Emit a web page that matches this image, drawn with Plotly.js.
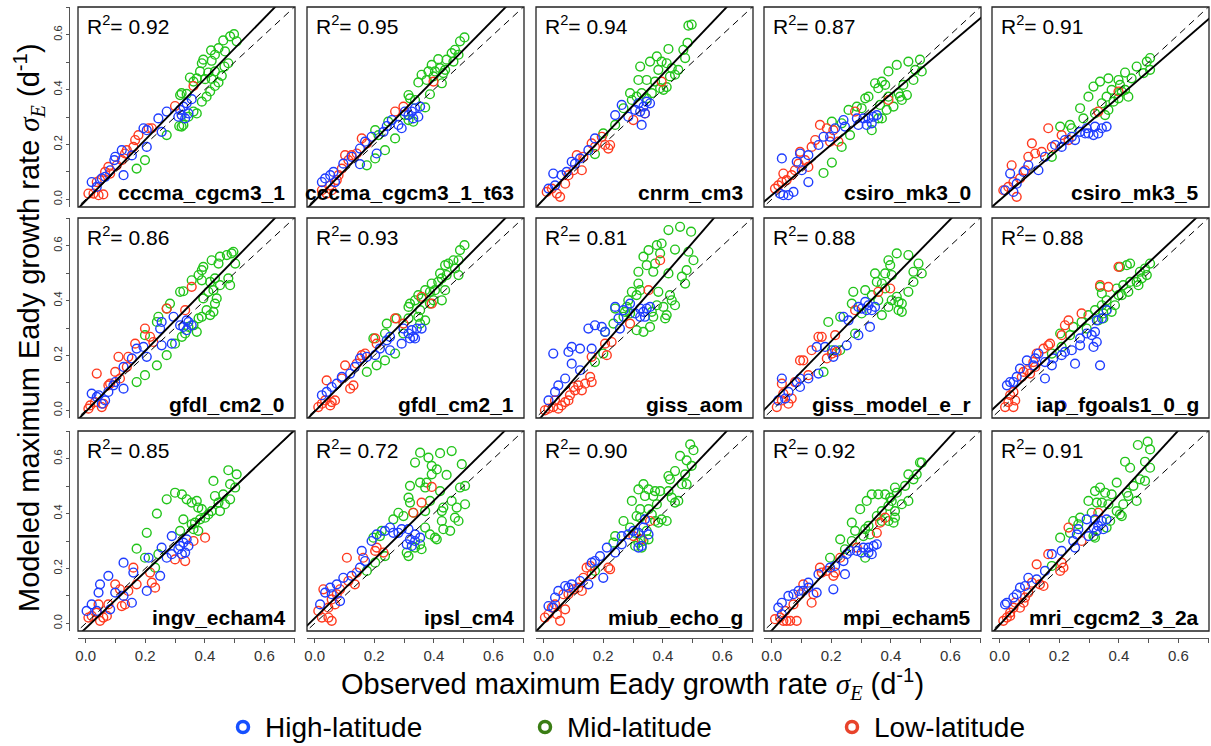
<!DOCTYPE html>
<html>
<head>
<meta charset="utf-8">
<script src="https://cdn.plot.ly/plotly-3.0.1.min.js"></script>
<style>html,body{margin:0;padding:0;background:#fff;}#chart{width:1211px;height:746px;}</style>
</head>
<body>
<div id="chart"></div>
<script>
// ---------------- data ----------------
const models = ['cccma_cgcm3_1','cccma_cgcm3_1_t63','cnrm_cm3','csiro_mk3_0','csiro_mk3_5',
  'gfdl_cm2_0','gfdl_cm2_1','giss_aom','giss_model_e_r','iap_fgoals1_0_g',
  'ingv_echam4','ipsl_cm4','miub_echo_g','mpi_echam5','mri_cgcm2_3_2a'];
const r2 = ['0.92','0.95','0.94','0.87','0.91','0.86','0.93','0.81','0.88','0.88','0.85','0.72','0.90','0.92','0.91'];
const fitSlope = [1.11,1.10,1.14,0.92,0.94,1.11,1.10,1.25,1.11,1.02,1.03,1.07,1.14,1.18,1.18];
const fitIntercept = [-0.005,-0.005,0.0,0.015,-0.003,-0.005,-0.004,-0.014,0.03,0.028,-0.018,0.019,0.0,-0.026,-0.005];
const groups = ['High-latitude','Mid-latitude','Low-latitude'];
const tickVals = [0,0.1,0.2,0.3,0.4,0.5,0.6,0.7];
const tickText = ['0.0','','0.2','','0.4','','0.6',''];

// panel 1 cccma_cgcm3_1
const p1_hx=[0.356,0.339,0.328,0.317,0.345,0.322,0.311,0.334,0.272,0.244,0.194,0.205,0.255,0.205,0.121,0.099,0.096,0.082,0.065,0.054,0.020,0.037,0.127,0.155];
const p1_hy=[0.365,0.350,0.338,0.326,0.313,0.307,0.301,0.295,0.320,0.295,0.259,0.252,0.246,0.191,0.179,0.155,0.143,0.106,0.082,0.076,0.063,0.045,0.088,0.160];
const p1_mx=[0.498,0.485,0.507,0.462,0.446,0.421,0.468,0.434,0.395,0.423,0.390,0.479,0.466,0.384,0.412,0.434,0.350,0.373,0.401,0.423,0.457,0.362,0.446,0.434,0.418,0.406,0.390,0.322,0.317,0.339,0.373,0.362,0.345,0.322,0.314,0.328,0.272,0.199,0.171];
const p1_my=[0.602,0.594,0.576,0.579,0.551,0.543,0.539,0.527,0.509,0.505,0.496,0.496,0.484,0.466,0.462,0.466,0.444,0.441,0.438,0.439,0.450,0.429,0.426,0.413,0.393,0.374,0.356,0.387,0.380,0.384,0.313,0.320,0.301,0.265,0.267,0.271,0.234,0.143,0.112];
const p1_lx=[0.026,0.009,0.043,0.059,0.037,0.048,0.076,0.082,0.104,0.132,0.138,0.160,0.166,0.177,0.222,0.211,0.300,0.362,0.121,0.065];
const p1_ly=[0.021,0.021,0.015,0.018,0.063,0.070,0.118,0.094,0.124,0.167,0.179,0.191,0.216,0.234,0.259,0.259,0.340,0.413,0.143,0.100];

// panel 2 cccma_cgcm3_1_t63
const p2_hx=[0.354,0.337,0.326,0.315,0.348,0.331,0.303,0.292,0.281,0.259,0.242,0.231,0.191,0.169,0.152,0.124,0.096,0.152,0.063,0.052,0.035,0.024,0.068,0.208];
const p2_hy=[0.338,0.332,0.320,0.307,0.301,0.295,0.320,0.259,0.271,0.289,0.267,0.246,0.228,0.210,0.185,0.155,0.130,0.128,0.100,0.088,0.076,0.063,0.063,0.167];
const p2_mx=[0.503,0.488,0.471,0.460,0.483,0.443,0.415,0.466,0.393,0.421,0.438,0.382,0.404,0.432,0.359,0.399,0.376,0.348,0.427,0.387,0.315,0.320,0.337,0.371,0.303,0.315,0.331,0.247,0.203,0.214,0.270,0.236,0.203,0.175];
const p2_my=[0.590,0.576,0.545,0.533,0.527,0.509,0.511,0.502,0.490,0.478,0.472,0.466,0.466,0.460,0.454,0.448,0.435,0.426,0.423,0.383,0.380,0.368,0.362,0.335,0.307,0.289,0.283,0.283,0.252,0.234,0.222,0.179,0.149,0.124];
const p2_lx=[0.040,0.057,0.024,0.052,0.074,0.080,0.091,0.113,0.124,0.141,0.158,0.175,0.270,0.298,0.399,0.102];
const p2_ly=[0.021,0.033,0.033,0.051,0.070,0.088,0.112,0.143,0.161,0.167,0.222,0.204,0.320,0.338,0.429,0.161];

// panel 3 cnrm_cm3
const p3_hx=[0.357,0.346,0.318,0.335,0.307,0.324,0.340,0.284,0.240,0.329,0.172,0.150,0.122,0.105,0.094,0.077,0.060,0.032,0.038,0.016,0.262];
const p3_hy=[0.350,0.356,0.350,0.338,0.326,0.320,0.313,0.301,0.307,0.271,0.222,0.179,0.149,0.130,0.137,0.100,0.088,0.094,0.051,0.039,0.344];
const p3_mx=[0.497,0.486,0.483,0.469,0.475,0.419,0.380,0.396,0.357,0.413,0.430,0.452,0.385,0.324,0.318,0.346,0.374,0.424,0.441,0.391,0.402,0.413,0.363,0.329,0.290,0.312,0.346,0.296,0.268,0.240,0.172,0.200];
const p3_my=[0.637,0.633,0.570,0.545,0.515,0.548,0.521,0.502,0.502,0.496,0.478,0.472,0.472,0.484,0.435,0.435,0.429,0.448,0.454,0.405,0.399,0.409,0.387,0.387,0.387,0.374,0.368,0.362,0.332,0.271,0.165,0.240];
const p3_lx=[0.010,0.027,0.044,0.055,0.072,0.083,0.100,0.128,0.111,0.133,0.161,0.206,0.223,0.217,0.301,0.340,0.396,0.195,0.172];
const p3_ly=[0.027,0.039,0.021,0.009,0.057,0.088,0.106,0.106,0.161,0.155,0.204,0.198,0.198,0.185,0.289,0.313,0.429,0.228,0.191];

// panel 4 csiro_mk3_0
const p4_hx=[0.353,0.342,0.325,0.308,0.336,0.319,0.286,0.291,0.241,0.246,0.213,0.196,0.174,0.157,0.123,0.095,0.084,0.034,0.123,0.028,0.039,0.056,0.073,0.101];
const p4_hy=[0.307,0.301,0.295,0.295,0.277,0.271,0.295,0.271,0.289,0.265,0.259,0.228,0.228,0.198,0.161,0.167,0.137,0.149,0.063,0.021,0.015,0.015,0.027,0.106];
const p4_mx=[0.498,0.459,0.420,0.392,0.482,0.476,0.504,0.442,0.370,0.347,0.381,0.358,0.325,0.314,0.426,0.431,0.437,0.454,0.409,0.386,0.364,0.286,0.258,0.302,0.358,0.370,0.336,0.235,0.202,0.263,0.235,0.202,0.174,0.392];
const p4_my=[0.509,0.502,0.490,0.466,0.472,0.435,0.466,0.417,0.429,0.423,0.417,0.405,0.374,0.368,0.387,0.374,0.362,0.380,0.338,0.326,0.344,0.338,0.326,0.332,0.295,0.295,0.252,0.277,0.283,0.234,0.191,0.134,0.096,0.374];
const p4_lx=[0.011,0.022,0.034,0.039,0.067,0.078,0.090,0.095,0.112,0.123,0.134,0.146,0.162,0.185,0.207,0.196,0.224,0.280,0.392,0.050];
const p4_ly=[0.039,0.051,0.063,0.094,0.088,0.106,0.130,0.173,0.143,0.118,0.191,0.216,0.271,0.259,0.252,0.210,0.210,0.320,0.362,0.070];

// panel 5 csiro_mk3_5
const p5_hx=[0.359,0.343,0.320,0.331,0.315,0.298,0.287,0.292,0.270,0.253,0.242,0.219,0.208,0.186,0.152,0.130,0.096,0.080,0.035,0.057,0.018,0.046];
const p5_hy=[0.265,0.259,0.265,0.240,0.234,0.240,0.240,0.259,0.246,0.216,0.228,0.216,0.191,0.198,0.155,0.106,0.124,0.100,0.094,0.057,0.033,0.027];
const p5_mx=[0.505,0.494,0.505,0.460,0.483,0.421,0.443,0.399,0.365,0.337,0.315,0.404,0.421,0.432,0.399,0.382,0.359,0.298,0.343,0.365,0.354,0.320,0.270,0.281,0.236,0.242,0.203,0.175,0.410,0.376];
const p5_my=[0.515,0.502,0.472,0.484,0.460,0.462,0.441,0.435,0.441,0.429,0.411,0.417,0.399,0.374,0.368,0.356,0.374,0.374,0.350,0.326,0.307,0.313,0.332,0.295,0.271,0.259,0.265,0.155,0.393,0.399];
const p5_lx=[0.012,0.029,0.046,0.057,0.068,0.085,0.040,0.096,0.119,0.141,0.108,0.163,0.208,0.231,0.175,0.399,0.331];
const p5_ly=[0.033,0.045,0.063,0.009,0.076,0.106,0.124,0.155,0.167,0.173,0.204,0.259,0.234,0.216,0.191,0.393,0.320];

// panel 6 gfdl_cm2_0
const p6_hx=[0.295,0.255,0.250,0.339,0.345,0.328,0.317,0.339,0.356,0.255,0.289,0.194,0.171,0.205,0.155,0.127,0.099,0.127,0.076,0.043,0.020,0.037,0.065,0.054,0.093];
const p6_hy=[0.341,0.322,0.298,0.328,0.322,0.304,0.310,0.292,0.310,0.237,0.243,0.231,0.225,0.195,0.189,0.158,0.103,0.079,0.067,0.055,0.061,0.049,0.036,0.024,0.091];
const p6_mx=[0.496,0.490,0.502,0.474,0.451,0.423,0.446,0.395,0.390,0.379,0.356,0.390,0.418,0.434,0.479,0.451,0.485,0.429,0.328,0.317,0.412,0.395,0.440,0.434,0.429,0.406,0.418,0.390,0.379,0.283,0.272,0.239,0.244,0.345,0.334,0.362,0.373,0.323,0.199,0.272,0.239,0.199,0.171,0.300];
const p6_my=[0.578,0.572,0.535,0.566,0.560,0.547,0.535,0.523,0.511,0.493,0.474,0.474,0.468,0.481,0.481,0.456,0.456,0.438,0.434,0.432,0.432,0.408,0.408,0.389,0.359,0.365,0.347,0.341,0.335,0.389,0.371,0.322,0.341,0.304,0.280,0.310,0.286,0.268,0.274,0.201,0.164,0.128,0.103,0.243];
const p6_lx=[0.015,0.009,0.031,0.054,0.059,0.037,0.082,0.099,0.115,0.138,0.110,0.143,0.166,0.199,0.216,0.227,0.272,0.334,0.356,0.076];
const p6_ly=[0.018,0.006,0.030,0.012,0.024,0.134,0.097,0.140,0.116,0.158,0.195,0.195,0.243,0.298,0.268,0.249,0.371,0.365,0.450,0.091];

// panel 7 gfdl_cm2_1
const p7_hx=[0.359,0.343,0.326,0.315,0.331,0.320,0.337,0.298,0.292,0.253,0.242,0.253,0.219,0.203,0.175,0.152,0.135,0.119,0.091,0.074,0.057,0.040,0.024];
const p7_hy=[0.298,0.298,0.292,0.280,0.268,0.262,0.262,0.298,0.243,0.268,0.255,0.219,0.225,0.201,0.195,0.189,0.158,0.134,0.122,0.097,0.085,0.067,0.055];
const p7_mx=[0.503,0.488,0.466,0.483,0.449,0.438,0.471,0.443,0.421,0.427,0.415,0.393,0.371,0.387,0.404,0.438,0.348,0.359,0.337,0.320,0.315,0.387,0.399,0.427,0.354,0.348,0.371,0.354,0.315,0.275,0.242,0.236,0.197,0.298,0.270,0.236,0.208,0.175,0.483];
const p7_my=[0.602,0.584,0.547,0.547,0.535,0.529,0.517,0.493,0.499,0.481,0.468,0.462,0.438,0.432,0.438,0.438,0.420,0.408,0.401,0.389,0.377,0.389,0.401,0.401,0.365,0.341,0.328,0.316,0.335,0.335,0.316,0.280,0.262,0.280,0.207,0.182,0.164,0.140,0.493];
const p7_lx=[0.012,0.024,0.035,0.052,0.057,0.068,0.040,0.091,0.102,0.119,0.130,0.141,0.158,0.169,0.208,0.203,0.270,0.298,0.359,0.393];
const p7_ly=[0.012,0.024,0.036,0.018,0.030,0.036,0.109,0.116,0.164,0.079,0.091,0.170,0.201,0.207,0.243,0.262,0.335,0.316,0.414,0.389];

// panel 8 giss_aom
const p8_hx=[0.240,0.268,0.290,0.324,0.335,0.346,0.357,0.340,0.324,0.307,0.251,0.256,0.195,0.172,0.150,0.206,0.161,0.122,0.094,0.083,0.094,0.122,0.072,0.049,0.038,0.016,0.032];
const p8_hy=[0.377,0.365,0.389,0.371,0.359,0.371,0.377,0.341,0.341,0.353,0.335,0.298,0.304,0.310,0.298,0.286,0.225,0.225,0.231,0.213,0.170,0.146,0.116,0.091,0.067,0.036,0.207];
const p8_mx=[0.458,0.419,0.495,0.441,0.486,0.503,0.396,0.380,0.391,0.352,0.335,0.346,0.374,0.368,0.318,0.419,0.480,0.464,0.475,0.318,0.324,0.296,0.312,0.385,0.424,0.430,0.441,0.402,0.380,0.284,0.279,0.240,0.273,0.290,0.268,0.363,0.368,0.408,0.413,0.312,0.335,0.357,0.234,0.206,0.200,0.172];
const p8_my=[0.669,0.657,0.651,0.586,0.578,0.547,0.608,0.602,0.572,0.584,0.560,0.529,0.535,0.505,0.505,0.499,0.511,0.487,0.462,0.462,0.438,0.432,0.420,0.432,0.420,0.401,0.383,0.377,0.383,0.401,0.377,0.371,0.359,0.353,0.341,0.359,0.341,0.335,0.347,0.292,0.286,0.304,0.316,0.286,0.207,0.176];
const p8_lx=[0.004,0.016,0.032,0.049,0.060,0.038,0.072,0.083,0.088,0.105,0.128,0.139,0.116,0.100,0.156,0.161,0.161,0.206,0.228,0.212,0.290,0.352,0.391];
const p8_ly=[0.000,0.006,0.012,0.006,0.018,0.036,0.030,0.036,0.055,0.073,0.073,0.097,0.091,0.085,0.122,0.103,0.195,0.243,0.249,0.201,0.316,0.438,0.547];

// panel 9 giss_model_e_r
const p9_hx=[0.314,0.325,0.302,0.319,0.291,0.336,0.347,0.330,0.241,0.258,0.291,0.252,0.213,0.207,0.179,0.151,0.157,0.123,0.095,0.084,0.034,0.095,0.056,0.022,0.045];
const p9_hy=[0.395,0.383,0.371,0.365,0.377,0.365,0.377,0.304,0.341,0.328,0.274,0.237,0.219,0.195,0.231,0.231,0.134,0.116,0.116,0.103,0.116,0.085,0.067,0.036,0.043];
const p9_mx=[0.420,0.459,0.392,0.398,0.347,0.381,0.493,0.476,0.504,0.403,0.353,0.370,0.314,0.274,0.381,0.476,0.459,0.336,0.358,0.403,0.420,0.437,0.426,0.437,0.392,0.370,0.269,0.230,0.302,0.280,0.190,0.174,0.230,0.202,0.426];
const p9_my=[0.572,0.566,0.547,0.529,0.499,0.499,0.535,0.505,0.499,0.493,0.468,0.462,0.438,0.432,0.444,0.468,0.432,0.420,0.401,0.401,0.414,0.389,0.365,0.359,0.377,0.347,0.389,0.341,0.353,0.280,0.322,0.140,0.219,0.219,0.395];
const p9_lx=[0.017,0.034,0.056,0.067,0.039,0.034,0.095,0.106,0.134,0.157,0.168,0.213,0.202,0.218,0.185,0.280,0.358,0.398,0.078,0.123];
const p9_ly=[0.012,0.036,0.024,0.043,0.061,0.097,0.182,0.182,0.219,0.268,0.268,0.274,0.207,0.213,0.189,0.365,0.432,0.444,0.103,0.128];

// panel 10 iap_fgoals1_0_g
const p10_hx=[0.359,0.343,0.326,0.320,0.309,0.292,0.326,0.315,0.270,0.270,0.242,0.253,0.219,0.208,0.180,0.175,0.152,0.130,0.119,0.113,0.091,0.068,0.057,0.046,0.035,0.024,0.152,0.337,0.208];
const p10_hy=[0.365,0.335,0.328,0.286,0.274,0.280,0.249,0.231,0.262,0.237,0.219,0.170,0.213,0.201,0.189,0.164,0.176,0.207,0.189,0.164,0.182,0.152,0.122,0.103,0.103,0.091,0.116,0.164,0.018];
const p10_mx=[0.438,0.427,0.404,0.505,0.488,0.471,0.494,0.477,0.460,0.466,0.438,0.432,0.415,0.393,0.399,0.359,0.337,0.343,0.387,0.376,0.359,0.348,0.320,0.348,0.331,0.298,0.275,0.292,0.247,0.236,0.203,0.208,0.175,0.343,0.410];
const p10_my=[0.535,0.529,0.523,0.535,0.517,0.505,0.493,0.481,0.468,0.456,0.468,0.432,0.456,0.444,0.420,0.401,0.450,0.426,0.383,0.359,0.365,0.353,0.365,0.335,0.328,0.347,0.322,0.298,0.304,0.274,0.280,0.231,0.207,0.383,0.420];
const p10_lx=[0.399,0.365,0.337,0.275,0.219,0.208,0.231,0.169,0.163,0.147,0.124,0.113,0.091,0.080,0.102,0.074,0.046,0.035,0.052,0.018,0.046,0.029,0.119];
const p10_ly=[0.523,0.450,0.456,0.353,0.310,0.274,0.328,0.243,0.237,0.225,0.207,0.176,0.146,0.140,0.134,0.122,0.067,0.055,0.036,0.012,0.012,0.030,0.158];

// panel 11 ingv_echam4
const p11_hx=[0.289,0.339,0.328,0.317,0.311,0.345,0.334,0.323,0.289,0.272,0.255,0.211,0.160,0.127,0.076,0.048,0.043,0.020,0.003,0.037,0.082,0.099,0.155,0.205,0.250,0.127];
const p11_hy=[0.318,0.306,0.294,0.282,0.270,0.282,0.258,0.252,0.252,0.239,0.276,0.239,0.185,0.221,0.173,0.142,0.112,0.069,0.045,0.045,0.051,0.112,0.075,0.118,0.173,0.100];
const p11_mx=[0.479,0.507,0.485,0.429,0.502,0.462,0.434,0.446,0.485,0.468,0.451,0.423,0.412,0.390,0.378,0.401,0.384,0.367,0.356,0.362,0.378,0.328,0.300,0.323,0.339,0.356,0.373,0.272,0.239,0.205,0.171,0.199,0.244,0.317,0.233];
const p11_my=[0.558,0.543,0.507,0.519,0.495,0.470,0.464,0.440,0.452,0.434,0.409,0.409,0.397,0.416,0.422,0.385,0.379,0.367,0.361,0.343,0.337,0.379,0.476,0.470,0.452,0.440,0.446,0.452,0.400,0.330,0.272,0.239,0.252,0.337,0.203];
const p11_lx=[0.009,0.020,0.037,0.048,0.059,0.071,0.076,0.099,0.115,0.132,0.121,0.143,0.160,0.216,0.222,0.233,0.300,0.334,0.362,0.401,0.171,0.043];
const p11_ly=[0.021,0.027,0.039,0.009,0.021,0.027,0.069,0.142,0.124,0.069,0.063,0.118,0.203,0.185,0.148,0.130,0.233,0.227,0.300,0.312,0.142,0.069];

// panel 12 ipsl_cm4
const p12_hx=[0.253,0.264,0.281,0.292,0.315,0.337,0.320,0.354,0.337,0.309,0.326,0.236,0.208,0.191,0.158,0.169,0.152,0.124,0.096,0.074,0.052,0.035,0.018,0.057,0.085];
const p12_hy=[0.349,0.330,0.330,0.343,0.343,0.324,0.306,0.312,0.300,0.288,0.282,0.337,0.324,0.300,0.264,0.227,0.203,0.173,0.166,0.142,0.130,0.112,0.069,0.106,0.081];
const p12_mx=[0.354,0.421,0.460,0.382,0.337,0.494,0.393,0.410,0.393,0.443,0.354,0.376,0.371,0.320,0.421,0.488,0.505,0.315,0.320,0.387,0.432,0.427,0.477,0.505,0.460,0.371,0.331,0.298,0.281,0.264,0.427,0.483,0.432,0.455,0.471,0.371,0.387,0.404,0.410,0.354,0.359,0.337,0.309,0.315,0.225,0.219,0.197,0.236,0.203,0.175];
const p12_my=[0.622,0.620,0.628,0.604,0.586,0.580,0.574,0.561,0.543,0.541,0.513,0.513,0.495,0.501,0.482,0.495,0.501,0.458,0.440,0.446,0.422,0.409,0.422,0.434,0.446,0.409,0.403,0.391,0.403,0.379,0.373,0.373,0.343,0.337,0.385,0.349,0.324,0.312,0.306,0.288,0.270,0.276,0.258,0.245,0.337,0.318,0.312,0.245,0.221,0.191];
const p12_lx=[0.393,0.359,0.331,0.208,0.203,0.231,0.108,0.163,0.141,0.135,0.113,0.085,0.074,0.057,0.068,0.029,0.046,0.012,0.024,0.046,0.057];
const p12_ly=[0.497,0.440,0.403,0.276,0.264,0.258,0.239,0.239,0.185,0.142,0.154,0.124,0.106,0.087,0.069,0.124,0.057,0.045,0.021,0.021,0.009];

// panel 13 miub_echo_g
const p13_hx=[0.340,0.335,0.318,0.301,0.284,0.262,0.262,0.352,0.329,0.318,0.240,0.212,0.189,0.172,0.161,0.150,0.122,0.094,0.083,0.072,0.049,0.038,0.016,0.032,0.200];
const p13_hy=[0.379,0.349,0.330,0.337,0.324,0.318,0.288,0.324,0.282,0.276,0.258,0.276,0.245,0.227,0.221,0.142,0.154,0.142,0.130,0.136,0.118,0.094,0.063,0.057,0.166];
const p13_mx=[0.492,0.503,0.458,0.480,0.497,0.441,0.419,0.424,0.475,0.464,0.480,0.335,0.318,0.352,0.374,0.391,0.419,0.430,0.441,0.452,0.368,0.340,0.380,0.296,0.352,0.324,0.312,0.324,0.363,0.396,0.413,0.385,0.374,0.268,0.290,0.307,0.346,0.352,0.335,0.318,0.307,0.329,0.240,0.234,0.172];
const p13_my=[0.652,0.631,0.610,0.594,0.574,0.555,0.537,0.525,0.543,0.507,0.507,0.507,0.488,0.488,0.482,0.482,0.482,0.458,0.440,0.446,0.464,0.464,0.434,0.446,0.416,0.416,0.391,0.385,0.397,0.379,0.373,0.367,0.373,0.373,0.349,0.330,0.337,0.306,0.300,0.294,0.282,0.276,0.318,0.294,0.191];
const p13_lx=[0.004,0.016,0.027,0.038,0.044,0.055,0.072,0.083,0.100,0.116,0.128,0.133,0.144,0.156,0.217,0.223,0.301,0.329,0.357,0.161,0.066];
const p13_ly=[0.021,0.033,0.057,0.069,0.033,0.009,0.051,0.106,0.124,0.130,0.118,0.166,0.203,0.209,0.203,0.197,0.318,0.306,0.373,0.179,0.106];

// panel 14 mpi_echam5
const p14_hx=[0.353,0.342,0.325,0.308,0.325,0.302,0.336,0.286,0.263,0.252,0.241,0.213,0.196,0.157,0.151,0.123,0.123,0.106,0.090,0.073,0.056,0.034,0.022,0.034,0.246,0.207];
const p14_hy=[0.288,0.282,0.276,0.276,0.258,0.258,0.252,0.264,0.264,0.252,0.227,0.209,0.203,0.179,0.112,0.148,0.130,0.118,0.118,0.106,0.100,0.075,0.057,0.033,0.179,0.124];
const p14_mx=[0.498,0.459,0.487,0.476,0.448,0.414,0.420,0.381,0.358,0.336,0.319,0.398,0.403,0.459,0.437,0.392,0.414,0.370,0.297,0.353,0.370,0.392,0.414,0.409,0.325,0.314,0.330,0.308,0.280,0.269,0.269,0.230,0.246,0.314,0.196,0.504];
const p14_my=[0.586,0.543,0.543,0.525,0.501,0.495,0.476,0.470,0.470,0.470,0.446,0.458,0.446,0.446,0.434,0.428,0.409,0.409,0.416,0.391,0.373,0.373,0.385,0.367,0.355,0.343,0.324,0.318,0.337,0.367,0.300,0.306,0.270,0.239,0.239,0.586];
const p14_lx=[0.011,0.028,0.039,0.050,0.062,0.084,0.045,0.073,0.095,0.106,0.140,0.134,0.162,0.168,0.185,0.207,0.213,0.230,0.286,0.353,0.364,0.381];
const p14_ly=[0.015,0.021,0.009,0.009,0.009,0.009,0.045,0.069,0.106,0.142,0.106,0.075,0.203,0.185,0.191,0.173,0.185,0.239,0.276,0.330,0.367,0.385];

// panel 15 mri_cgcm2_3_2a
const p15_hx=[0.359,0.343,0.320,0.292,0.331,0.315,0.348,0.326,0.298,0.264,0.259,0.247,0.253,0.208,0.175,0.152,0.124,0.096,0.085,0.068,0.057,0.046,0.024,0.018];
const p15_hy=[0.379,0.373,0.379,0.379,0.355,0.349,0.343,0.337,0.318,0.343,0.324,0.300,0.276,0.264,0.252,0.191,0.160,0.166,0.136,0.130,0.106,0.094,0.075,0.069];
const p15_mx=[0.464,0.497,0.505,0.421,0.438,0.488,0.505,0.471,0.488,0.449,0.460,0.427,0.432,0.415,0.393,0.376,0.354,0.337,0.320,0.298,0.326,0.343,0.365,0.393,0.404,0.410,0.371,0.359,0.309,0.270,0.247,0.236,0.203,0.264,0.315,0.320,0.175];
const p15_my=[0.650,0.662,0.634,0.589,0.567,0.589,0.567,0.525,0.519,0.501,0.446,0.476,0.464,0.434,0.513,0.470,0.476,0.495,0.482,0.446,0.440,0.440,0.434,0.409,0.397,0.391,0.373,0.349,0.403,0.385,0.373,0.330,0.312,0.361,0.318,0.312,0.209];
const p15_lx=[0.012,0.024,0.035,0.046,0.052,0.080,0.085,0.096,0.108,0.124,0.147,0.135,0.163,0.208,0.214,0.203,0.231,0.275,0.331,0.035,0.068];
const p15_ly=[0.009,0.021,0.039,0.057,0.075,0.075,0.094,0.112,0.148,0.215,0.136,0.142,0.252,0.221,0.203,0.191,0.349,0.300,0.403,0.027,0.057];

const highX=[p1_hx,p2_hx,p3_hx,p4_hx,p5_hx,p6_hx,p7_hx,p8_hx,p9_hx,p10_hx,p11_hx,p12_hx,p13_hx,p14_hx,p15_hx];
const highY=[p1_hy,p2_hy,p3_hy,p4_hy,p5_hy,p6_hy,p7_hy,p8_hy,p9_hy,p10_hy,p11_hy,p12_hy,p13_hy,p14_hy,p15_hy];
const midX=[p1_mx,p2_mx,p3_mx,p4_mx,p5_mx,p6_mx,p7_mx,p8_mx,p9_mx,p10_mx,p11_mx,p12_mx,p13_mx,p14_mx,p15_mx];
const midY=[p1_my,p2_my,p3_my,p4_my,p5_my,p6_my,p7_my,p8_my,p9_my,p10_my,p11_my,p12_my,p13_my,p14_my,p15_my];
const lowX=[p1_lx,p2_lx,p3_lx,p4_lx,p5_lx,p6_lx,p7_lx,p8_lx,p9_lx,p10_lx,p11_lx,p12_lx,p13_lx,p14_lx,p15_lx];
const lowY=[p1_ly,p2_ly,p3_ly,p4_ly,p5_ly,p6_ly,p7_ly,p8_ly,p9_ly,p10_ly,p11_ly,p12_ly,p13_ly,p14_ly,p15_ly];

// ---------------- styling / layout ----------------
const W = 1211, H = 746;
const colLeft = [78, 307, 536, 764, 992];
const boxW = 217;
const rowTop = [7, 218, 431];
const boxH = 200;
const xRange = [-0.026, 0.703];
const yRange = [-0.028, 0.701];
const colHigh = '#1f3dff', colMid = '#22c41a', colLow = '#ff3a1f';
const legHigh = '#1650ff', legMid = '#3a7d14', legLow = '#e8432b';
const FONT = 'Liberation Sans, Arial, Helvetica, sans-serif';
const sigma = '<span style="font-family:Liberation Serif, Times New Roman, serif"><i>σ<sub>E</sub></i></span>';

const traces = [];
const layout = {
  width: W, height: H,
  margin: {l: 0, r: 0, t: 0, b: 0, autoexpand: false},
  paper_bgcolor: '#fff', plot_bgcolor: '#fff',
  font: {family: FONT, color: '#000'},
  showlegend: false,
  annotations: [], shapes: []
};

function mkMarker(color) {
  return {symbol: 'circle-open', size: 8.8, color: color, line: {color: color, width: 1.4}};
}

for (let i = 0; i < 15; i++) {
  const r = Math.floor(i / 5), c = i % 5;
  const n = i + 1;
  const xa = n === 1 ? 'x' : 'x' + n;
  const ya = n === 1 ? 'y' : 'y' + n;
  const xkey = n === 1 ? 'xaxis' : 'xaxis' + n;
  const ykey = n === 1 ? 'yaxis' : 'yaxis' + n;
  const x0 = colLeft[c] / W, x1 = (colLeft[c] + boxW) / W;
  const y1 = (H - rowTop[r]) / H, y0 = (H - rowTop[r] - boxH) / H;

  const xax = {domain: [x0, x1], range: xRange, anchor: ya, showgrid: false, zeroline: false,
    showline: false, ticks: '', showticklabels: false, fixedrange: true};
  if (r === 2) {
    Object.assign(xax, {anchor: 'free', position: (H - 638) / H, showline: true, linecolor: '#555', linewidth: 1,
      ticks: 'outside', ticklen: 4, tickwidth: 1, tickcolor: '#555', tickmode: 'array', tickvals: tickVals, ticktext: tickText,
      showticklabels: true, tickfont: {size: 15, color: '#333', family: FONT}});
  }
  const yax = {domain: [y0, y1], range: yRange, anchor: xa, showgrid: false, zeroline: false,
    showline: false, ticks: '', showticklabels: false, fixedrange: true};
  if (c === 0) {
    Object.assign(yax, {anchor: 'free', position: 69 / W, showline: true, linecolor: '#555', linewidth: 1,
      ticks: 'outside', ticklen: 3, tickwidth: 1, tickcolor: '#555', tickmode: 'array', tickvals: tickVals, ticktext: tickText,
      showticklabels: true, tickangle: -90, tickfont: {size: 11, color: '#333', family: FONT}});
  }
  layout[xkey] = xax;
  layout[ykey] = yax;

  traces.push({x: midX[i], y: midY[i], xaxis: xa, yaxis: ya, type: 'scatter', mode: 'markers',
    marker: mkMarker(colMid), showlegend: false, cliponaxis: true, hoverinfo: 'skip'});
  traces.push({x: lowX[i], y: lowY[i], xaxis: xa, yaxis: ya, type: 'scatter', mode: 'markers',
    marker: mkMarker(colLow), showlegend: false, cliponaxis: true, hoverinfo: 'skip'});
  traces.push({x: highX[i], y: highY[i], xaxis: xa, yaxis: ya, type: 'scatter', mode: 'markers',
    marker: mkMarker(colHigh), showlegend: false, cliponaxis: true, hoverinfo: 'skip'});

  // 1:1 line (dashed) and regression line (solid)
  const lx = [xRange[0] - 0.05, xRange[1] + 0.05];
  traces.push({x: lx, y: lx.slice(), xaxis: xa, yaxis: ya, type: 'scatter', mode: 'lines',
    line: {color: '#000', width: 1, dash: '7px,5px'}, showlegend: false, hoverinfo: 'skip'});
  traces.push({x: lx, y: lx.map(v => fitSlope[i] * v + fitIntercept[i]), xaxis: xa, yaxis: ya, type: 'scatter', mode: 'lines',
    line: {color: '#000', width: 1.9}, showlegend: false, hoverinfo: 'skip'});

  // frame
  layout.shapes.push({type: 'rect', xref: xa + ' domain', yref: ya + ' domain', x0: 0, x1: 1, y0: 0, y1: 1,
    line: {color: '#222', width: 1.3}, fillcolor: 'rgba(0,0,0,0)', layer: 'above'});

  // texts
  layout.annotations.push({xref: xa + ' domain', yref: ya + ' domain', x: 7 / boxW, y: 1 - 18 / boxH,
    xanchor: 'left', yanchor: 'middle', showarrow: false, text: 'R<sup>2</sup>= ' + r2[i],
    font: {size: 21, color: '#000', family: FONT}});
  layout.annotations.push({xref: xa + ' domain', yref: ya + ' domain', x: 1 - 8 / boxW, y: 14 / boxH,
    xanchor: 'right', yanchor: 'middle', showarrow: false, text: '<b>' + models[i] + '</b>',
    font: {size: 21, color: '#000', family: FONT}});
}

// axis titles
layout.annotations.push({xref: 'paper', yref: 'paper', x: 632 / W, y: (H - 684) / H, xanchor: 'center', yanchor: 'middle',
  showarrow: false, text: 'Observed maximum Eady growth rate ' + sigma + ' (d<sup>-1</sup>)', font: {size: 29, family: FONT, color: '#000'}});
layout.annotations.push({xref: 'paper', yref: 'paper', x: 29 / W, y: (H - 328) / H, xanchor: 'center', yanchor: 'middle',
  textangle: -90, showarrow: false, text: 'Modeled maximum Eady growth rate ' + sigma + ' (d<sup>-1</sup>)', font: {size: 29, family: FONT, color: '#000'}});

// legend (marker + label for each group)
const legCx = [243, 545, 852];
const legCols = [legHigh, legMid, legLow];
const legY = (H - 727) / H;
groups.forEach((g, k) => {
  layout.shapes.push({type: 'circle', xref: 'paper', yref: 'paper', xsizemode: 'pixel', ysizemode: 'pixel',
    xanchor: legCx[k] / W, yanchor: legY, x0: -5.5, x1: 5.5, y0: -5.5, y1: 5.5,
    line: {color: legCols[k], width: 3.5}, fillcolor: 'rgba(0,0,0,0)'});
  layout.annotations.push({xref: 'paper', yref: 'paper', x: (legCx[k] + 20) / W, y: legY, xanchor: 'left', yanchor: 'middle',
    showarrow: false, text: g, font: {size: 28, family: FONT, color: '#000'}});
});

Plotly.newPlot('chart', traces, layout, {displayModeBar: false, staticPlot: true});
</script>
</body>
</html>
